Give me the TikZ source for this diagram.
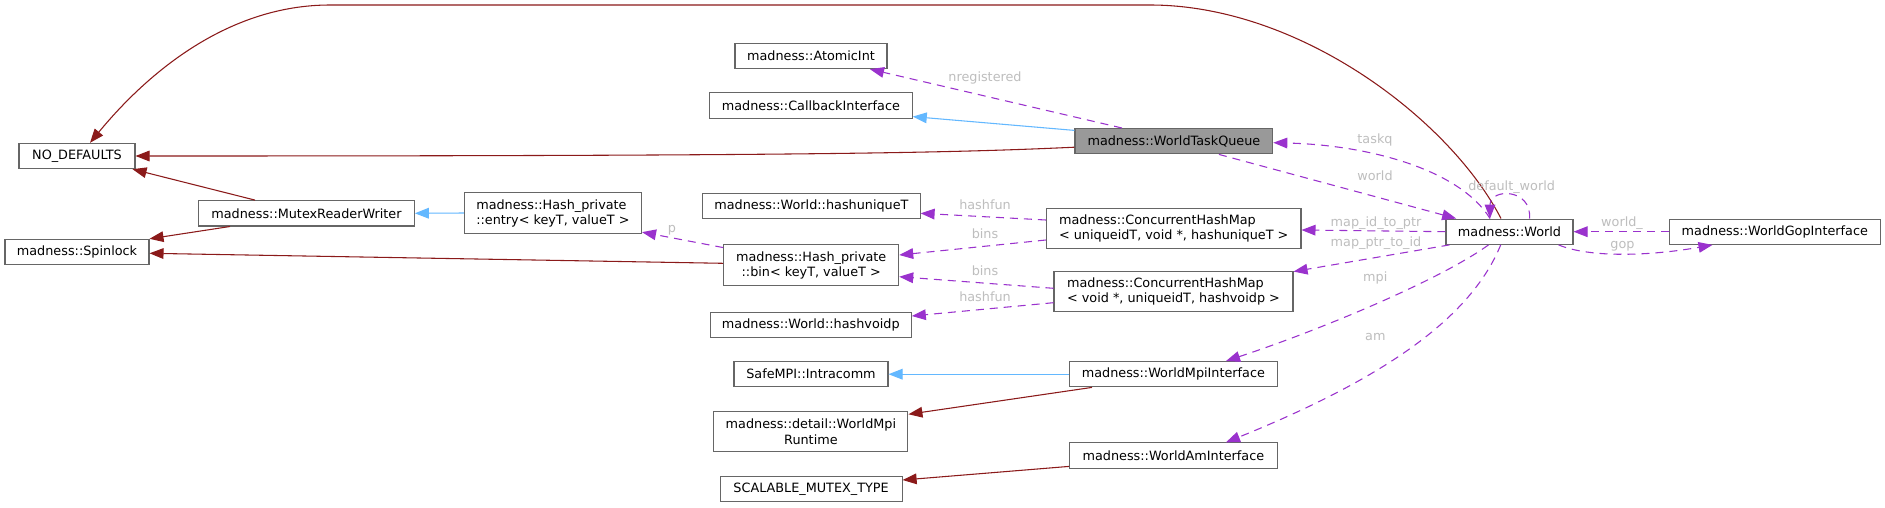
\documentclass[tikz,border=0pt]{standalone}
\usepackage{fontspec}
\setmainfont{DejaVu Sans}
\usetikzlibrary{arrows.meta,calc}
\definecolor{dred}{HTML}{8B1A1A}
\definecolor{dblue}{HTML}{63B8FF}
\definecolor{dpurp}{HTML}{9A32CD}
\definecolor{lblgray}{HTML}{BEBEBE}
\definecolor{bordergray}{HTML}{666666}
\definecolor{fillgray}{HTML}{999999}
\begin{document}
\begin{tikzpicture}[x=0.75pt,y=-0.75pt,
  every node/.style={font=\fontsize{9.6}{11.3}\selectfont, inner sep=0pt},
  cbox/.style={draw=bordergray, line width=0.8pt, fill=white, minimum height=19pt, align=center},
  dbox/.style={cbox, minimum height=30.3pt},
  elabel/.style={text=lblgray, text height=7pt, text depth=2pt},
  arrtip/.style={-{Triangle[length=10.5pt,width=8pt]}},
  inhline/.style={draw=dred, line width=0.8pt, arrtip},
  publine/.style={draw=dblue, line width=0.8pt, arrtip},
  useline/.style={draw=dpurp, line width=0.8pt, dash pattern=on 6pt off 4.5pt, arrtip},
]
\fill[white] (0,0) rectangle (1885,507);
\useasboundingbox (0,0) rectangle (1885,507);

% nodes
\node[cbox, minimum width=87pt] (nod) at (77,156) {NO\_DEFAULTS};
\node[cbox, minimum width=108pt] (spin) at (77,252) {madness::Spinlock};
\node[cbox, minimum width=161.7pt] (mrw) at (306.5,213.3) {madness::MutexReaderWriter};
\node[dbox, minimum width=132.9pt, align=left] (entry) at (552.9,213) {madness::Hash\_private\\::entry< keyT, valueT >};
\node[cbox, minimum width=114pt] (atomic) at (811,56) {madness::AtomicInt};
\node[cbox, minimum width=152pt] (callback) at (810.9,105.4) {madness::CallbackInterface};
\node[cbox, minimum width=163pt] (hashu) at (811.4,206.2) {madness::World::hashuniqueT};
\node[dbox, minimum width=131.25pt] (bin) at (811.2,265) {madness::Hash\_private\\::bin< keyT, valueT >};
\node[cbox, minimum width=150.75pt] (hashv) at (810.8,324.7) {madness::World::hashvoidp};
\node[cbox, minimum width=115.5pt] (intra) at (811,374.2) {SafeMPI::Intracomm};
\node[dbox, minimum width=145.5pt] (runtime) at (810.9,431.7) {madness::detail::WorldMpi\\Runtime};
\node[cbox, minimum width=136.5pt] (scal) at (811.1,489.2) {SCALABLE\_MUTEX\_TYPE};
\node[cbox, minimum width=148.35pt, fill=fillgray] (wtq) at (1173.9,141.2) {madness::WorldTaskQueue};
\node[dbox, minimum width=190.9pt, align=left] (chm1) at (1173.7,228.3) {madness::ConcurrentHashMap\\< uniqueidT, void *, hashuniqueT >};
\node[dbox, minimum width=179.25pt, align=left] (chm2) at (1173.5,291.7) {madness::ConcurrentHashMap\\< void *, uniqueidT, hashvoidp >};
\node[cbox, minimum width=155.7pt] (wmi) at (1173.4,374.2) {madness::WorldMpiInterface};
\node[cbox, minimum width=155.7pt] (wai) at (1173.4,455.5) {madness::WorldAmInterface};
\node[cbox, minimum width=95.25pt] (world) at (1509.5,231.7) {madness::World};
\node[cbox, minimum width=158.1pt] (gop) at (1774.8,231.7) {madness::WorldGopInterface};

% edges
\draw[inhline] ($(wtq.west)+(0,6)$) .. controls (950,153) and (800,156) .. (nod.east);
\draw[inhline] ($(world.north)+(-8.5,0)$) .. controls (1450,120) and (1300,5) .. (1150,5) -- (330,5) .. controls (230,5) and (150,70) .. ($(nod.north)+(13,0)$);
\draw[inhline] ($(mrw.north)+(-51.5,0)$) -- ($(nod.south east)+(-3,0)$);
\draw[inhline] ($(mrw.south)+(-76.5,0)$) -- (spin.north east);
\draw[inhline] ($(bin.west)+(0,-1.7)$) -- ($(spin.east)+(0,1.3)$);
\draw[publine] (entry.west) -- (mrw.east);
\draw[useline] ($(bin.north west)+(0,3.3)$) -- ($(entry.south east)+(0,-1.6)$);
\node[elabel] (lp) at (672,229.3) {p};
\draw[useline] ($(wtq.north)+(-52,0)$) -- ($(atomic.south)+(59,0)$);
\node[elabel] (lnreg) at (985,78.3) {nregistered};
\draw[publine] ($(wtq.north west)+(0,2.4)$) -- ($(callback.south east)+(0,-2)$);
\draw[useline] ($(world.north)+(-19.5,0)$) .. controls (1460,170) and (1370,145) .. ($(wtq.east)+(0,1.5)$);
\node[elabel] (ltaskq) at (1375,140) {taskq};
\draw[useline] ($(wtq.south)+(45,0)$) -- ($(world.north west)+(10.7,0)$);
\node[elabel] (lworld) at (1375,176.7) {world};
\draw[useline] ($(world.north)+(20,0)$) .. controls (1532,188) and (1490,188) .. ($(world.north)+(-19.5,0)$);
\node[elabel] (ldef) at (1511.6,186.7) {default\_world};
\draw[useline] (world.west) -- ($(chm1.east)+(0,1.7)$);
\node[elabel] (lid) at (1376,223.3) {map\_id\_to\_ptr};
\draw[useline] ($(world.south west)+(4,0)$) -- ($(chm2.north east)+(0,0.6)$);
\node[elabel] (lptr) at (1376,242.7) {map\_ptr\_to\_id};
\draw[useline] ($(chm1.west)+(0,-8.3)$) -- ($(hashu.east)+(0,7.1)$);
\node[elabel] (lhf1) at (985,206) {hashfun};
\draw[useline] ($(chm1.west)+(0,11.7)$) -- ($(bin.east)+(0,-10)$);
\node[elabel] (lbins1) at (985,235) {bins};
\draw[useline] ($(chm2.west)+(0,-3.4)$) -- ($(bin.east)+(0,11.7)$);
\node[elabel] (lbins2) at (985,272.3) {bins};
\draw[useline] ($(chm2.west)+(0,11)$) -- ($(hashv.east)+(0,-8.7)$);
\node[elabel] (lhf2) at (985,298.3) {hashfun};
\draw[useline] ($(world.south)+(-21,0)$) .. controls (1440,280) and (1320,330) .. ($(wmi.north)+(52.6,0)$);
\node[elabel] (lmpi) at (1375.3,278.3) {mpi};
\draw[useline] ($(world.south)+(-8.8,0)$) .. controls (1470,320) and (1380,380) .. ($(wai.north)+(52.6,0)$);
\node[elabel] (lam) at (1375.3,336.7) {am};
\draw[publine] (wmi.west) -- (intra.east);
\draw[inhline] ($(wmi.south)+(-81.4,0)$) -- ($(runtime.north east)+(0,3.3)$);
\draw[inhline] ($(wai.south west)+(0,-2.3)$) -- ($(scal.east)+(0,-9.2)$);
\draw[useline] (gop.west) -- (world.east);
\node[elabel] (lworldu) at (1622,223.3) {world\_};
\draw[useline] ($(world.south east)+(-15,0)$) .. controls (1590,258) and (1650,256) .. ($(gop.south west)+(43.6,0)$);
\node[elabel] (lgop) at (1622.5,245) {gop};
\end{tikzpicture}
\end{document}
